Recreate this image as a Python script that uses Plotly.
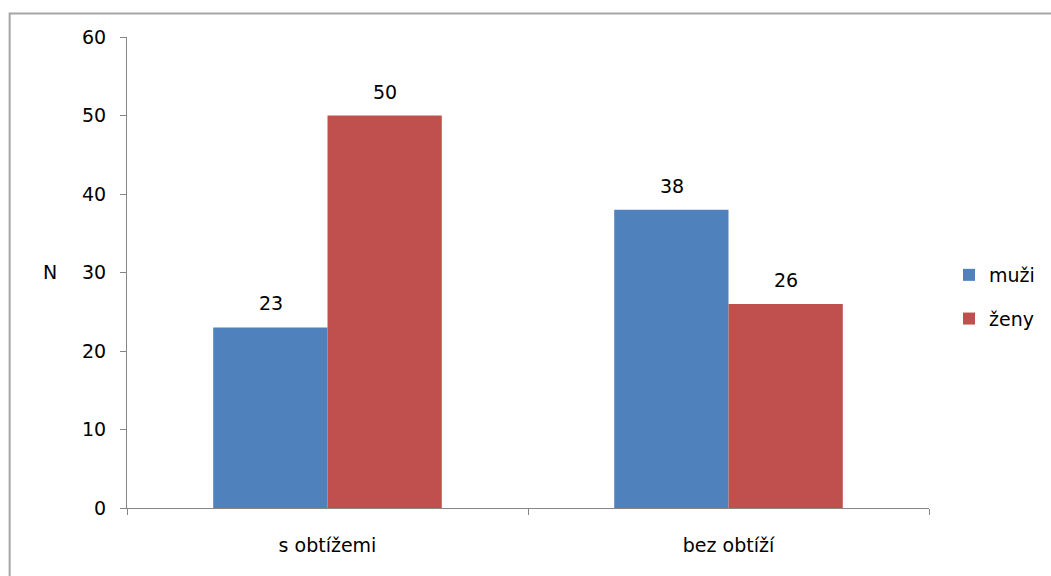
import plotly.graph_objects as go

categories = ["s obtížemi", "bez obtíží"]
muzi = [23, 38]
zeny = [50, 26]
y_ticks = [0, 10, 20, 30, 40, 50, 60]

W, H = 1051, 576
L, R, T, B = 127, 121, 37, 68
pw, ph = W - L - R, H - T - B

font = dict(family="DejaVu Sans", size=19, color="#000000")

fig = go.Figure()
fig.add_trace(go.Bar(
    name="muži", x=categories, y=muzi, marker_color="#4F81BD",
    marker_line_width=0, legendgroup="a",
))
fig.add_trace(go.Bar(
    name="ženy", x=categories, y=zeny, marker_color="#C0504D",
    marker_line_width=0, legendgroup="b",
))

def px_x(p):
    return (p - L) / pw

def px_y(p):
    return (H - B - p) / ph

# value labels above each bar, offset to the bar's side of the group
annotations = []
for series, shift in ((muzi, -57), (zeny, 57)):
    for cat, val in zip(categories, series):
        annotations.append(dict(
            x=cat, y=val, xref="x", yref="y", text=str(val), showarrow=False,
            xshift=shift, yshift=24, xanchor="center", yanchor="middle", font=font,
        ))

annotations.append(dict(
    text="N", xref="paper", yref="paper", x=px_x(50), y=px_y(272),
    xanchor="center", yanchor="middle", showarrow=False, font=font,
))

fig.update_layout(
    width=W, height=H,
    margin=dict(l=L, r=R, t=T, b=B, pad=0),
    paper_bgcolor="white", plot_bgcolor="white",
    barmode="group", bargap=0.43, bargroupgap=0,
    font=font,
    showlegend=True,
    legend=dict(
        x=px_x(949), y=px_y(297), xanchor="left", yanchor="middle",
        font=font, traceorder="grouped", tracegroupgap=16,
        itemwidth=30,
    ),
    xaxis=dict(
        showline=True, linecolor="#868686", linewidth=1,
        ticks="outside", ticklen=6, tickcolor="#868686", tickson="boundaries",
        showgrid=False, tickfont=font, ticklabelstandoff=20,
    ),
    yaxis=dict(
        range=[0, 60], tickvals=y_ticks, showline=True, linecolor="#868686",
        linewidth=1, ticks="outside", ticklen=6, tickcolor="#868686",
        showgrid=False, zeroline=False, tickfont=font, ticklabelstandoff=10,
    ),
    shapes=[dict(
        type="rect", xref="paper", yref="paper",
        x0=px_x(9.5), x1=px_x(1070), y0=px_y(600), y1=px_y(13.5),
        line=dict(color="#A6A6A6", width=2), fillcolor="rgba(0,0,0,0)",
        layer="below",
    )],
    annotations=annotations,
)

fig.write_html("out.html")
